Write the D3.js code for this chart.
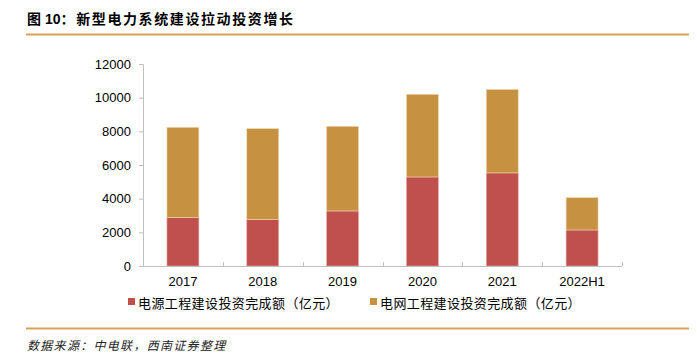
<!DOCTYPE html>
<html><head><meta charset="utf-8">
<script src="https://cdn.jsdelivr.net/npm/d3@7"></script>
<style>body{margin:0;background:#fff}svg{display:block}</style>
</head><body>
<svg id="c" width="697" height="357"></svg>
<script>
const categories = ["2017","2018","2019","2020","2021","2022H1"];
const powerSource = [2870, 2770, 3270, 5290, 5530, 2140];
const powerGrid = [5370, 5390, 5030, 4910, 4960, 1920];
const yTicks = [0, 2000, 4000, 6000, 8000, 10000, 12000];
const seriesNames = ["电源工程建设投资完成额（亿元）", "电网工程建设投资完成额（亿元）"];
const colors = ["#C0504D", "#C69141"];

const svg = d3.select("#c");
const cjk = "'Noto Sans CJK SC', sans-serif";
const latin = "'Liberation Sans', Arial, sans-serif";

// Title
const t = svg.append("text").attr("x", 27).attr("y", 24).attr("font-size", 14).attr("fill", "#000")
  .style("white-space", "pre");
t.append("tspan").attr("font-family", cjk).attr("font-weight", "bold").text("图");
t.append("tspan").attr("font-family", latin).attr("font-weight", "bold").attr("dx", 4).text("10");
t.append("tspan").attr("font-family", cjk).attr("font-weight", "bold").attr("letter-spacing", 1.6).text("：新型电力系统建设拉动投资增长");
svg.append("line").attr("x1", 26).attr("x2", 689).attr("y1", 34.5).attr("y2", 34.5)
  .attr("stroke", "#D9A15A").attr("stroke-width", 2);

const x = d3.scaleBand().domain(categories).range([143, 622]).paddingInner(0.6).paddingOuter(0.3);
const y = d3.scaleLinear().domain([0, 12000]).range([266, 64]);

const data = categories.map((c, i) => ({cat: c, a: powerSource[i], b: powerGrid[i]}));
const stack = d3.stack().keys(["a", "b"])(data);

const g = svg.append("g");
stack.forEach((s, si) => {
  g.selectAll(null).data(s).enter().append("rect")
    .attr("x", d => x(d.data.cat))
    .attr("width", x.bandwidth())
    .attr("y", d => y(d[1]))
    .attr("height", d => y(d[0]) - y(d[1]))
    .attr("fill", colors[si])
    .attr("stroke", si === 0 ? "#E8A9A7" : "#EFD9B0")
    .attr("stroke-width", 0.6);
});

// Y axis
const yAxis = svg.append("g").attr("transform", "translate(143,0)")
  .call(d3.axisLeft(y).tickValues(yTicks).tickSize(4).tickPadding(8).tickFormat(d3.format("d")));
yAxis.select(".domain").attr("stroke", "#BFBFBF").attr("d", "M-4,64.5H0.5V266");
yAxis.selectAll(".tick line").attr("stroke", "#BFBFBF");
yAxis.selectAll("text").attr("font-family", latin).attr("font-size", 13).attr("fill", "#000");

// X axis
const xAxisG = svg.append("g").attr("transform", "translate(0,266)");
xAxisG.append("line").attr("x1", 143).attr("x2", 622).attr("y1", 0.5).attr("y2", 0.5).attr("stroke", "#BFBFBF");
const bounds = d3.range(categories.length + 1).map(i => 143 + i * (622 - 143) / categories.length);
xAxisG.selectAll(null).data(bounds.slice(1)).enter().append("line")
  .attr("x1", d => Math.round(d) + 0.5).attr("x2", d => Math.round(d) + 0.5)
  .attr("y1", 0).attr("y2", -4).attr("stroke", "#BFBFBF");
xAxisG.selectAll(null).data(categories).enter().append("text")
  .attr("x", (d, i) => (bounds[i] + bounds[i + 1]) / 2)
  .attr("y", 20).attr("text-anchor", "middle")
  .attr("font-family", latin).attr("font-size", 13).attr("fill", "#000").text(d => d);

// Legend
const legX = [128, 370];
seriesNames.forEach((n, i) => {
  svg.append("rect").attr("x", legX[i]).attr("y", 298).attr("width", 7).attr("height", 7).attr("fill", colors[i]);
  svg.append("text").attr("x", legX[i] + 10).attr("y", 307.5).attr("letter-spacing", 0.4)
    .attr("font-family", cjk).attr("font-size", 13).attr("fill", "#000").text(n);
});

// Footer
svg.append("line").attr("x1", 26).attr("x2", 689).attr("y1", 328.5).attr("y2", 328.5)
  .attr("stroke", "#D9A15A").attr("stroke-width", 2);
svg.append("text").attr("x", 27).attr("y", 350).attr("font-family", cjk).attr("font-style", "italic")
  .attr("letter-spacing", 1.3)
  .attr("font-size", 12).attr("fill", "#222").text("数据来源：中电联，西南证券整理");
</script>
</body></html>
